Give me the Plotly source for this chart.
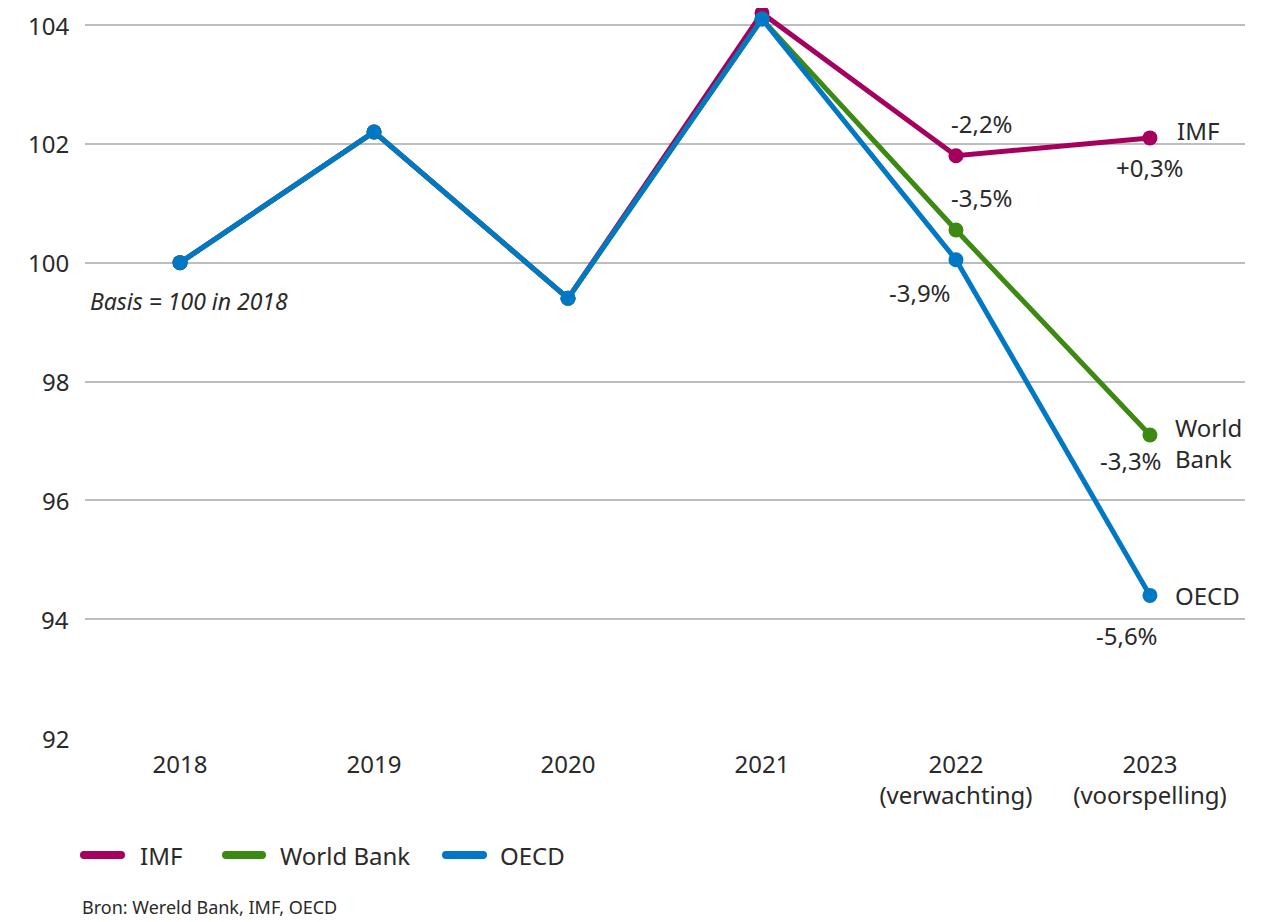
import plotly.graph_objects as go

years = ["2018", "2019", "2020", "2021", "2022<br>(verwachting)", "2023<br>(voorspelling)"]
imf = [100, 102.2, 99.4, 104.2, 101.8, 102.1]
world_bank = [100, 102.2, 99.4, 104.1, 100.55, 97.1]
oecd = [100, 102.2, 99.4, 104.1, 100.05, 94.4]
series_names = ["IMF", "World Bank", "OECD"]
colors = ["#A5005E", "#3C8A12", "#0078C6"]
y_ticks = [92, 94, 96, 98, 100, 102, 104]

FONT = "Noto Sans"
TXT = "#2a2a2a"

# page offset (body margin) compensation
OFF = 8
W, H = 1273 - OFF, 922 - OFF
L, R, T, B = 85 - OFF, 28, 0, 184
PW = W - L - R
PH = H - T - B
UNIT = 59.4  # px per y unit
Y_TOP = 104 + (25 - OFF - T) / UNIT

def px(x):  # page pixel -> paper x
    return (x - OFF - L) / PW

def py(y):  # page pixel -> paper y
    return (H - B - (y - OFF)) / PH

fig = go.Figure()
for name, vals, col in zip(series_names, [imf, world_bank, oecd], colors):
    fig.add_trace(go.Scatter(
        x=list(range(len(years))), y=vals, name=name, mode="lines+markers",
        line=dict(color=col, width=5), marker=dict(color=col, size=15),
        cliponaxis=False, showlegend=False,
    ))

def ann(x, y, text, xshift=0, yshift=0, xanchor="center", italic=False, size=24):
    fig.add_annotation(x=x, y=y, xref="x", yref="y", text=text, showarrow=False,
                       xshift=xshift, yshift=yshift, xanchor=xanchor, yanchor="middle",
                       align="left",
                       font=dict(family=FONT, size=size, color=TXT,
                                 style="italic" if italic else "normal"))

ann(0, 100, "Basis = 100 in 2018", xshift=-92, yshift=-38, xanchor="left", italic=True, size=23)
ann(4, imf[4], "-2,2%", xshift=26, yshift=32)
ann(5, imf[5], "+0,3%", xshift=0, yshift=-30)
ann(4, world_bank[4], "-3,5%", xshift=26, yshift=32)
ann(4, oecd[4], "-3,9%", xshift=-36, yshift=-33)
ann(5, world_bank[5], "-3,3%", xshift=-19, yshift=-26)
ann(5, oecd[5], "-5,6%", xshift=-23, yshift=-40)
ann(5, imf[5], "IMF", xshift=25, yshift=7, xanchor="left")
ann(5, world_bank[5], "World<br>Bank", xshift=23, yshift=-8, xanchor="left")
ann(5, oecd[5], "OECD", xshift=23, yshift=0, xanchor="left")

# y-axis tick labels (as text, so the top one is not dropped)
for v in y_ticks:
    fig.add_annotation(x=px(71), y=v, xref="paper", yref="y", text=str(v),
                       showarrow=False, xanchor="right", yanchor="middle",
                       font=dict(family=FONT, size=24, color=TXT))

# manual legend
legend_sym = [(80, 125), (222, 266), (442, 487)]
legend_txt_x = [138, 278, 498]
ly = 855
for name, col, (x0, x1), tx in zip(series_names, colors, legend_sym, legend_txt_x):
    fig.add_shape(type="line", xref="paper", yref="paper",
                  x0=px(x0 + 3), x1=px(x1 - 3), y0=py(ly), y1=py(ly),
                  line=dict(color=col, width=8))
    fig.add_shape(type="circle", xref="paper", yref="paper",
                  x0=px(x0), x1=px(x0 + 8), y0=py(ly + 4), y1=py(ly - 4),
                  fillcolor=col, line=dict(width=0))
    fig.add_shape(type="circle", xref="paper", yref="paper",
                  x0=px(x1 - 8), x1=px(x1), y0=py(ly + 4), y1=py(ly - 4),
                  fillcolor=col, line=dict(width=0))
    fig.add_annotation(x=px(tx), y=py(ly), xref="paper", yref="paper", text=name,
                       showarrow=False, xanchor="left", yanchor="middle",
                       font=dict(family=FONT, size=24, color=TXT))

fig.add_annotation(x=px(80), y=py(907), xref="paper", yref="paper",
                   text="Bron: Wereld Bank, IMF, OECD",
                   showarrow=False, xanchor="left", yanchor="middle",
                   font=dict(family=FONT, size=18, color=TXT))

fig.update_layout(
    width=W, height=H,
    margin=dict(l=L, r=R, t=T, b=B),
    paper_bgcolor="white", plot_bgcolor="white",
    font=dict(family=FONT, size=24, color=TXT),
    showlegend=False,
)
fig.update_xaxes(tickmode="array", tickvals=list(range(len(years))), ticktext=years,
                 range=[-0.49, 5.49], showgrid=False, zeroline=False, showline=False,
                 ticks="", ticklabelstandoff=10, tickfont=dict(size=24, color=TXT))
fig.update_yaxes(range=[92, Y_TOP], tickvals=y_ticks, showgrid=True, gridcolor="#bdbdbd",
                 gridwidth=1.5, zeroline=False, showline=False, ticks="",
                 showticklabels=False)

fig.write_html("out.html")
